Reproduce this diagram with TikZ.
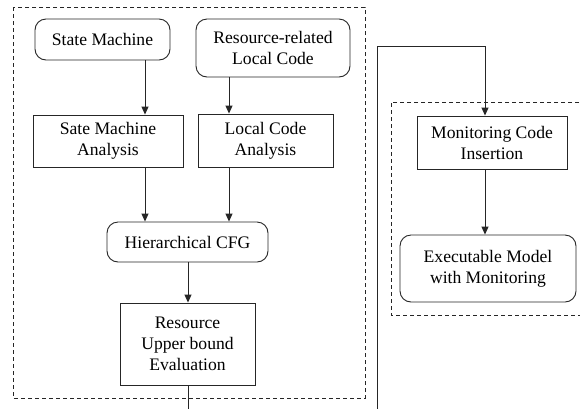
\documentclass[tikz,border=0pt]{standalone}
\usepackage{fontspec}
\setmainfont{Liberation Serif}
\usetikzlibrary{arrows.meta}
\begin{document}
\begin{tikzpicture}[x=1pt,y=-1pt,
  every node/.style={font=\fontsize{17.6}{21}\selectfont, align=center, inner sep=0pt},
  boxr/.style={draw=black!85, line width=0.9pt, rounded corners=11pt},
  boxs/.style={draw=black!85, line width=0.9pt},
  arr/.style={draw=black!85, line width=0.9pt, -{Triangle[length=8pt,width=7pt]}},
  dbox/.style={draw=black!85, line width=0.8pt, dash pattern=on 4pt off 3pt}]
\useasboundingbox (0,0) rectangle (580,408);
\clip (0,0) rectangle (580,408);
\fill[white] (0,0) rectangle (580,408);
% dashed groups
\draw[dbox] (13,7) rectangle (365,398);
\draw[dbox] (600,102) -- (391,102) -- (391,315) -- (600,315);
% nodes
\node[boxr, minimum width=135pt, minimum height=41pt] (SM) at (102.5,39.5) {State Machine};
\node[boxr, minimum width=154pt, minimum height=58pt] (RLC) at (273,48) {Resource-related\\Local Code};
\node[boxs, minimum width=150pt, minimum height=52pt] (SMA) at (108,141) {Sate Machine\\Analysis};
\node[boxs, minimum width=135pt, minimum height=53pt] (LCA) at (265.5,140.5) {Local Code\\Analysis};
\node[boxr, minimum width=161pt, minimum height=40pt] (HCFG) at (187.5,242) {Hierarchical CFG};
\node[boxs, minimum width=135pt, minimum height=82pt] (RUE) at (187.5,344) {Resource\\Upper bound\\Evaluation};
\node[boxs, minimum width=150pt, minimum height=53pt] (MCI) at (492,142.5) {Monitoring Code\\Insertion};
\node[boxr, minimum width=176pt, minimum height=67pt] (EMM) at (488,268.5) {Executable Model\\with Monitoring};
% helper coordinates
\coordinate (xa) at (145,0);
\coordinate (xb) at (229,0);
\coordinate (xc) at (188,0);
\coordinate (bot) at (377,420);
\coordinate (top) at (485,46);
% connectors
\draw[arr] (SM.south -| xa) -- (SMA.north -| xa);
\draw[arr] (RLC.south -| xb) -- (LCA.north -| xb);
\draw[arr] (SMA.south -| xa) -- (HCFG.north -| xa);
\draw[arr] (LCA.south -| xb) -- (HCFG.north -| xb);
\draw[arr] (HCFG.south -| xc) -- (RUE.north -| xc);
\draw[arr] (RUE.south -| xc) |- (bot) |- (top) -- (top |- MCI.north);
\draw[arr] (MCI.south -| top) -- (EMM.north -| top);
\end{tikzpicture}
\end{document}
